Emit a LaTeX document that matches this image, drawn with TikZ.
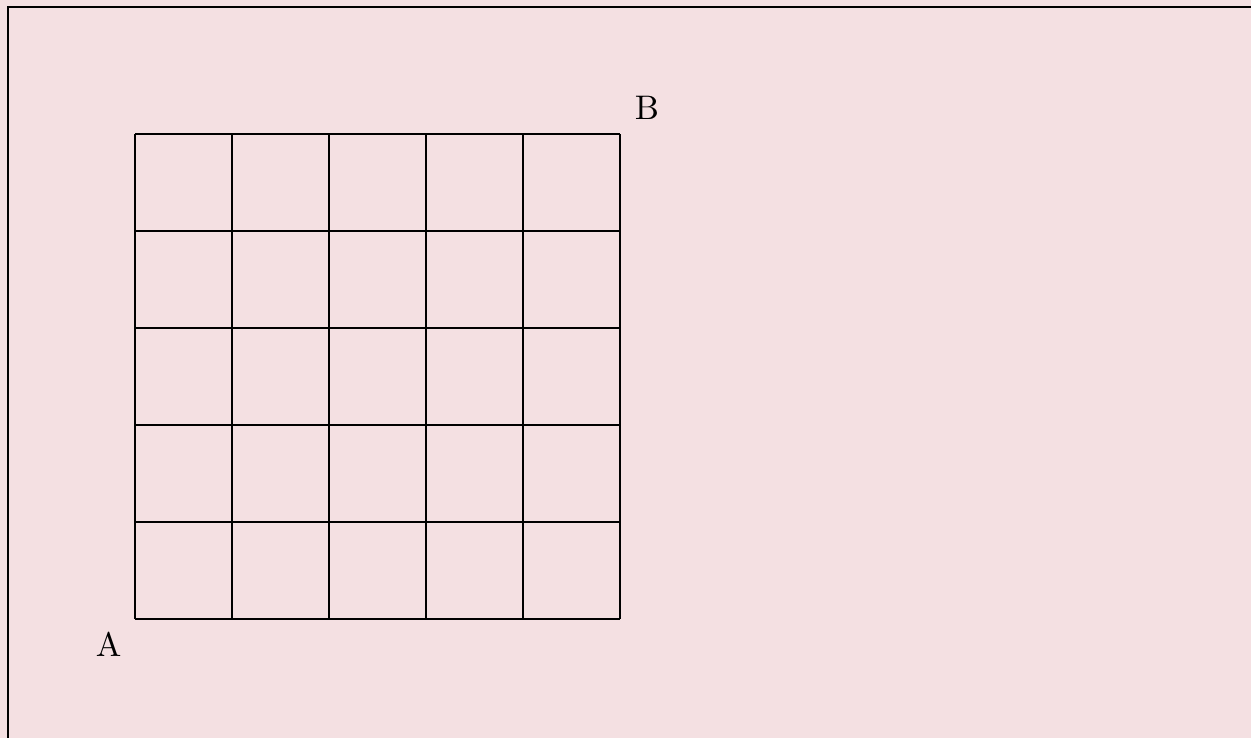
\documentclass[tikz,border=0pt]{standalone}
\usepackage{xcolor}
\usepackage{tikz}
\usetikzlibrary{positioning}
\definecolor{paleblush}{RGB}{244,224,226}

\begin{document}
\begin{tikzpicture}[
    corner/.style={inner sep=0pt, font=\normalsize},
    gridline/.style={draw=black}
]
    \useasboundingbox[fill=paleblush] (-1.392,-1.227) rectangle (11.505,6.381);
    \draw (11.51,-1.5) -- (-1.309,-1.5) -- (-1.309,6.309) -- (11.51,6.309) -- (11.51,-1.5);

    \coordinate (sw) at (0,0);
    \coordinate (ne) at (5,5);
    \draw[gridline] (sw) grid (ne);

    \node[corner] (A) at (-0.273,-0.263) {A};
    \node[corner] (B) at (5.278,5.268) {B};
\end{tikzpicture}
\end{document}
